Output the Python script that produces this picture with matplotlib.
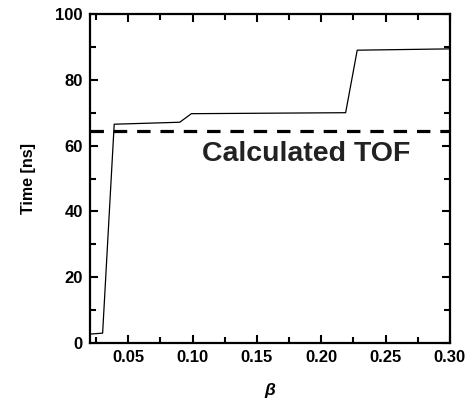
import matplotlib
matplotlib.use("Agg")
import matplotlib.pyplot as plt
from matplotlib.ticker import MultipleLocator

plt.rcParams['font.family'] = ['Liberation Sans', 'DejaVu Sans']
plt.rcParams['font.weight'] = 'bold'

# time of flight vs beta
beta = [0.020, 0.030, 0.039, 0.090, 0.099, 0.219, 0.228, 0.300]
time_ns = [2.7, 3.0, 66.5, 67.1, 69.7, 70.0, 89.0, 89.4]
calc_tof = 64.4

fig = plt.figure(figsize=(4.7, 4.0), dpi=100)
ax = fig.add_axes([0.191, 0.1425, 0.766, 0.8225])

ax.plot(beta, time_ns, color='black', linewidth=0.9)
ax.axhline(calc_tof, color='black', linewidth=2.3, dashes=(4.2, 3.1))
ax.text(0.188, 57.5, 'Calculated TOF', fontsize=20.5, fontweight='bold',
        ha='center', va='center', color='#222222')

ax.set_xlim(0.02, 0.30)
ax.set_ylim(0, 100)
ax.xaxis.set_minor_locator(MultipleLocator(0.025))
ax.yaxis.set_major_locator(MultipleLocator(20))
ax.yaxis.set_minor_locator(MultipleLocator(10))
ax.set_xticks([0.05, 0.10, 0.15, 0.20, 0.25, 0.30])
ax.set_xticklabels(['0.05', '0.10', '0.15', '0.20', '0.25', '0.30'])

ax.tick_params(which='both', direction='in', top=True, right=True,
               labelsize=12, width=1.5)
ax.tick_params(which='major', length=6, pad=5)
ax.tick_params(which='minor', length=4)
for s in ax.spines.values():
    s.set_linewidth(1.6)

ax.set_xlabel('β', fontsize=12.5, fontstyle='italic', fontweight='bold', labelpad=13)
ax.set_ylabel('Time [ns]', fontsize=11.5, fontweight='bold', labelpad=14)

fig.savefig('out.png', dpi=100)
